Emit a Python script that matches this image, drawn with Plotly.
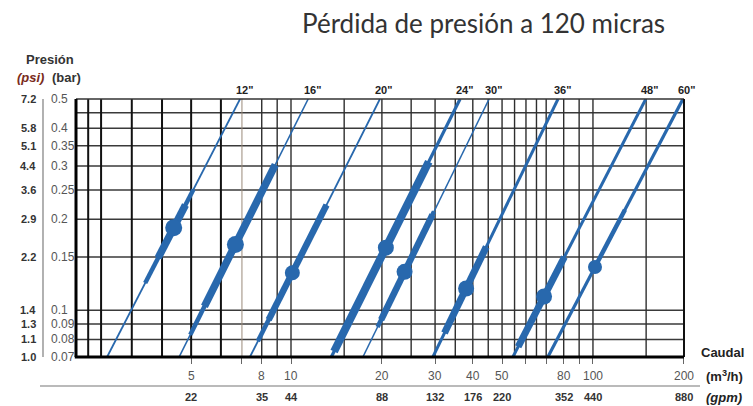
import numpy as np
import plotly.graph_objects as go

# ---- pipe-size loss lines (flow in m3/h where each line meets 0.07 bar and 0.5 bar)
sizes = ['12"', '16"', '20"', '24"', '30"', '36"', '48"', '60"']
flow_at_min_p = [2.46, 4.26, 7.31, 13.6, 17.3, 29.5, 54.3, 70.9]
flow_at_max_p = [6.78, 11.4, 19.7, 36.3, 45.3, 76.6, 149.6, 198.6]

# recommended operating band (bar), transition band (bar) and nominal point (bar)
heavy_lo = [0.149, 0.103, 0.093, 0.073, 0.093, 0.084, 0.0757, 0.139]
heavy_hi = [0.223, 0.303, 0.223, 0.31, 0.207, 0.162, 0.150, 0.215]
medium_lo = [0.123, 0.083, 0.079, None, 0.088, None, None, None]
medium_hi = [0.251, 0.303, 0.223, None, 0.212, None, None, None]
nominal_p = [0.1875, 0.165, 0.133, 0.161, 0.134, 0.118, 0.111, 0.139]

base_width = [1.8, 1.6, 1.8, 3.2, 1.5, 3.0, 3.0, 3.2]
heavy_width = [7.5, 7.5, 6.5, 8, 6.5, 7, 7, 4.5]
dot_size = [17, 17, 15, 16, 16, 16, 16, 14]

# ---- axes
p_min, p_max = 0.07, 0.5
bar_ticks = [0.5, 0.4, 0.35, 0.3, 0.25, 0.2, 0.15, 0.1, 0.09, 0.08, 0.07]
bar_text = ['0.5', '0.4', '0.35', '0.3', '0.25', '0.2', '0.15', '0.1', '0.09', '0.08', '0.07']
psi_text = ['7.2', '5.8', '5.1', '4.4', '3.6', '2.9', '2.2', '1.4', '1.3', '1.1', '1.0']
bar_grid = [0.08, 0.09, 0.1, 0.15, 0.2, 0.25, 0.3, 0.35, 0.4, 0.45]

flow_grid_heavy = [2.13, 2.35, 2.97, 3.74, 4.67, 5.86]
flow_grid_light = [6.88]
flow_grid = [8, 9, 10, 15, 20, 25, 30, 35, 40, 45, 50, 55, 60, 65, 70, 80, 90, 100, 150]
flow_ticks = [4.67, 6.88, 8, 10, 20, 30, 40, 50, 60, 70, 80, 90, 100, 200]
m3h_vals = [4.67, 8, 10, 20, 30, 40, 50, 80, 100, 200]
m3h_text = ['5', '8', '10', '20', '30', '40', '50', '80', '100', '200']
gpm_text = ['22', '35', '44', '88', '132', '176', '220', '352', '440', '880']

BLUE = '#2868ad'
W, H = 753, 406
L, R, T, B = 76, 69, 99, 49
PW, PH = W - L - R, H - T - B
X_RANGE = [0.288, 2.3015]


def px_x(px):
    return (px - L) / PW


def px_y(py):
    return (H - B - py) / PH


def flow_on_line(i, p):
    """Flow on line i at pressure p (straight line in log-log space)."""
    lq0, lq1 = np.log10(flow_at_min_p[i]), np.log10(flow_at_max_p[i])
    t = (np.log10(p) - np.log10(p_min)) / (np.log10(p_max) - np.log10(p_min))
    return 10 ** (lq0 + t * (lq1 - lq0))


fig = go.Figure()


def vlines(xs, color, width):
    xx, yy = [], []
    for v in xs:
        xx += [v, v, None]
        yy += [p_min, p_max, None]
    fig.add_trace(go.Scatter(x=xx, y=yy, mode='lines', hoverinfo='skip',
                             line=dict(color=color, width=width)))


def hlines(ys, color, width):
    xx, yy = [], []
    for v in ys:
        xx += [10 ** X_RANGE[0], 10 ** X_RANGE[1], None]
        yy += [v, v, None]
    fig.add_trace(go.Scatter(x=xx, y=yy, mode='lines', hoverinfo='skip',
                             line=dict(color=color, width=width)))


# grid
hlines(bar_grid, '#3a3a3a', 1.5)
vlines(flow_grid, '#2e2e2e', 1.4)
vlines(flow_grid_light, '#9a8a7a', 1.0)
vlines(flow_grid_heavy, '#111111', 2.0)

# loss lines
for i in range(len(sizes)):
    fig.add_trace(go.Scatter(
        x=[flow_at_min_p[i], flow_at_max_p[i]], y=[p_min, p_max], mode='lines',
        hoverinfo='skip', line=dict(color=BLUE, width=base_width[i])))
    if medium_lo[i] is not None:
        fig.add_trace(go.Scatter(
            x=[flow_on_line(i, medium_lo[i]), flow_on_line(i, medium_hi[i])],
            y=[medium_lo[i], medium_hi[i]], mode='lines', hoverinfo='skip',
            line=dict(color=BLUE, width=4.5)))
    fig.add_trace(go.Scatter(
        x=[flow_on_line(i, heavy_lo[i]), flow_on_line(i, heavy_hi[i])],
        y=[heavy_lo[i], heavy_hi[i]], mode='lines', hoverinfo='skip',
        line=dict(color=BLUE, width=heavy_width[i])))
    fig.add_trace(go.Scatter(
        x=[flow_on_line(i, nominal_p[i])], y=[nominal_p[i]], mode='markers',
        hoverinfo='skip', marker=dict(color=BLUE, size=dot_size[i], line=dict(width=0))))

ann = []
# size labels at the top of each line
for i, s in enumerate(sizes):
    ann.append(dict(xref='x', yref='paper', x=np.log10(flow_at_max_p[i]), y=1,
                    text='<b>' + s + '</b>', showarrow=False, xanchor='center',
                    yanchor='bottom', xshift=4, yshift=1,
                    font=dict(family='Liberation Sans, Arial', size=11, color='#222')))

NARROW = 'Liberation Sans Narrow, Arial Narrow, Liberation Sans'
# pressure labels
for v, bt, pt in zip(bar_ticks, bar_text, psi_text):
    ann.append(dict(xref='paper', yref='y', x=px_x(49), y=np.log10(v), text=bt,
                    showarrow=False, xanchor='left', yanchor='middle',
                    font=dict(family=NARROW, size=12, color='#555')))
    ann.append(dict(xref='paper', yref='y', x=px_x(38), y=np.log10(v), text='<b>' + pt + '</b>',
                    showarrow=False, xanchor='right', yanchor='middle',
                    font=dict(family=NARROW, size=11, color='#333')))

# flow labels (m3/h row and gpm row)
for v, mt, gt in zip(m3h_vals, m3h_text, gpm_text):
    ann.append(dict(xref='x', yref='paper', x=np.log10(v), y=px_y(376), text=mt,
                    showarrow=False, xanchor='center', yanchor='middle',
                    font=dict(family=NARROW, size=12, color='#555')))
    ann.append(dict(xref='x', yref='paper', x=np.log10(v), y=px_y(397), text='<b>' + gt + '</b>',
                    showarrow=False, xanchor='center', yanchor='middle',
                    font=dict(family=NARROW, size=11, color='#333')))

ann += [
    dict(xref='paper', yref='paper', x=px_x(483), y=px_y(23),
         text='Pérdida de presión a 120 micras', showarrow=False,
         xanchor='center', yanchor='middle',
         font=dict(family='Lato, Open Sans', size=26, color='#333')),
    dict(xref='paper', yref='paper', x=px_x(50), y=px_y(60), text='<b>Presión</b>',
         showarrow=False, xanchor='center', yanchor='middle',
         font=dict(family='Liberation Sans, Arial', size=13, color='#333')),
    dict(xref='paper', yref='paper', x=px_x(30), y=px_y(77), text='<b><i>(psi)</i></b>',
         showarrow=False, xanchor='center', yanchor='middle',
         font=dict(family='Liberation Sans, Arial', size=13, color='#7a2c1c')),
    dict(xref='paper', yref='paper', x=px_x(66), y=px_y(77), text='<b>(bar)</b>',
         showarrow=False, xanchor='center', yanchor='middle',
         font=dict(family='Liberation Sans, Arial', size=13, color='#333')),
    dict(xref='paper', yref='paper', x=px_x(722), y=px_y(352), text='<b>Caudal</b>',
         showarrow=False, xanchor='center', yanchor='middle',
         font=dict(family='Liberation Sans, Arial', size=13, color='#222')),
    dict(xref='paper', yref='paper', x=px_x(724), y=px_y(376), text='<b>(m<sup>3</sup>/h)</b>',
         showarrow=False, xanchor='center', yanchor='middle',
         font=dict(family='Liberation Sans, Arial', size=13, color='#222')),
    dict(xref='paper', yref='paper', x=px_x(724), y=px_y(397), text='<b><i>(gpm)</i></b>',
         showarrow=False, xanchor='center', yanchor='middle',
         font=dict(family='Liberation Sans, Arial', size=13, color='#222')),
]

shapes = [
    # frame
    dict(type='line', xref='paper', yref='paper', x0=0, x1=1, y0=1, y1=1,
         line=dict(color='#333', width=1.5)),
    dict(type='line', xref='paper', yref='paper', x0=1, x1=1, y0=0, y1=1,
         line=dict(color='#111', width=2)),
    dict(type='line', xref='paper', yref='paper', x0=0, x1=0, y0=0, y1=1,
         line=dict(color='#000', width=3)),
    dict(type='line', xref='paper', yref='paper', x0=-0.002, x1=1, y0=0, y1=0,
         line=dict(color='#000', width=3)),
    # psi / bar divider
    dict(type='line', xref='paper', yref='paper', x0=px_x(43), x1=px_x(43), y0=0, y1=1,
         line=dict(color='#888', width=1.3)),
    # divider between flow-unit rows
    dict(type='line', xref='paper', yref='paper', x0=px_x(40), x1=px_x(700),
         y0=px_y(386), y1=px_y(386), line=dict(color='#777', width=1.2)),
]

fig.update_layout(
    width=W, height=H, margin=dict(l=L, r=R, t=T, b=B),
    paper_bgcolor='white', plot_bgcolor='white', showlegend=False,
    annotations=ann, shapes=shapes,
    xaxis=dict(type='log', range=X_RANGE, showgrid=False, zeroline=False,
               showline=False, tickvals=flow_ticks, ticks='outside', ticklen=6,
               tickwidth=1, tickcolor='#666', showticklabels=False, fixedrange=True),
    yaxis=dict(type='log', range=[np.log10(p_min), np.log10(p_max)], showgrid=False,
               zeroline=False, showline=False, showticklabels=False, ticks='',
               fixedrange=True),
)

fig.write_html('out.html')
